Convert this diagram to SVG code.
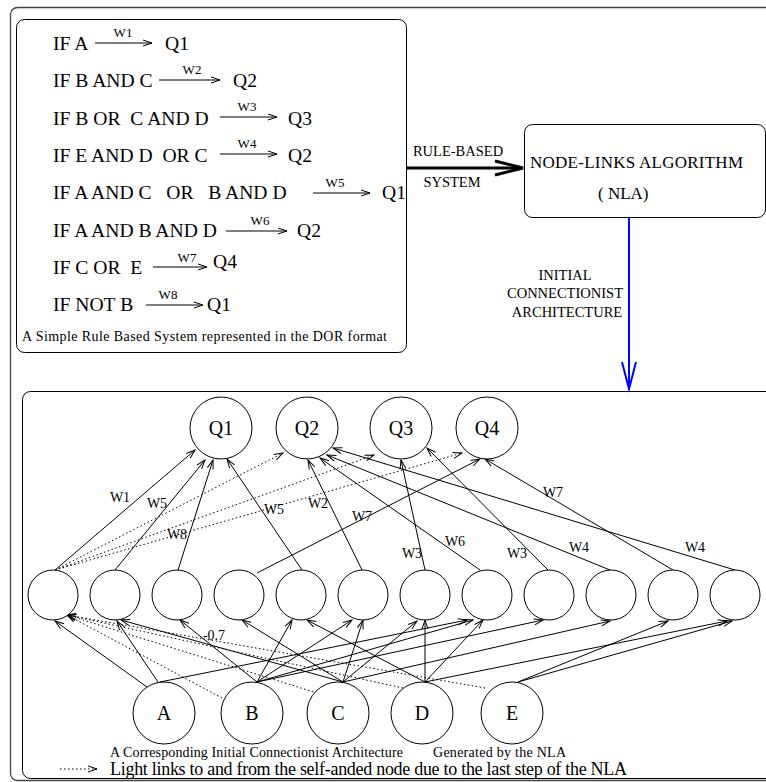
<svg xmlns="http://www.w3.org/2000/svg" width="766" height="782" viewBox="0 0 766 782">
<style>
text{font-family:"Liberation Serif","Times New Roman",serif;fill:#000}
.r{font-size:19.6px;white-space:pre}
.w{font-size:13px}
.nl{font-size:14px}
.big{font-size:17px}
.lbl{font-size:14.5px}
.nd{font-size:20px;text-anchor:middle}
.frame{fill:none;stroke:#444;stroke-width:1.3}
.box{fill:none;stroke:#000;stroke-width:1}
.c{fill:#fff;stroke:#000;stroke-width:1}
.ln{stroke:#000;stroke-width:1;fill:none;marker-end:url(#ah)}
.dt{stroke:#000;stroke-width:1;fill:none;stroke-dasharray:1.5 2.5;marker-end:url(#ah)}
.ra{stroke:#000;stroke-width:1;fill:none;marker-end:url(#ah)}
</style>
<defs>
<marker id="ah" viewBox="-10 -5 12 10" refX="0" refY="0" markerWidth="12" markerHeight="10" markerUnits="userSpaceOnUse" orient="auto"><path d="M-9,-3 L0,0 L-9,3" fill="none" stroke="#000" stroke-width="1"/></marker>
</defs>
<rect x="0" y="0" width="766" height="782" fill="#fff"/>
<rect class="frame" x="10.5" y="7.5" width="800" height="773" rx="7"/>

<g id="rules">
<rect class="box" x="16.5" y="19.5" width="390" height="333" rx="8"/>
<text class="r" x="53" y="50">IF A</text>
<line class="ra" x1="95" y1="43" x2="152" y2="43"/>
<text class="w" x="123" y="37" text-anchor="middle">W1</text>
<text class="r" x="165" y="50">Q1</text>
<text class="r" x="53" y="87">IF B AND C</text>
<line class="ra" x1="159" y1="80" x2="220" y2="80"/>
<text class="w" x="192" y="74" text-anchor="middle">W2</text>
<text class="r" x="233" y="87">Q2</text>
<text class="r" x="53" y="125">IF B OR  C AND D</text>
<line class="ra" x1="220" y1="117" x2="277" y2="117"/>
<text class="w" x="247" y="111" text-anchor="middle">W3</text>
<text class="r" x="288" y="125">Q3</text>
<text class="r" x="53" y="162">IF E AND D  OR C</text>
<line class="ra" x1="220" y1="154" x2="277" y2="154"/>
<text class="w" x="247" y="148" text-anchor="middle">W4</text>
<text class="r" x="288" y="162">Q2</text>
<text class="r" x="53" y="199">IF A AND C   OR   B AND D</text>
<line class="ra" x1="313" y1="193" x2="370" y2="193"/>
<text class="w" x="335" y="187" text-anchor="middle">W5</text>
<text class="r" x="382" y="199">Q1</text>
<text class="r" x="53" y="237">IF A AND B AND D</text>
<line class="ra" x1="226" y1="231" x2="287" y2="231"/>
<text class="w" x="260" y="225" text-anchor="middle">W6</text>
<text class="r" x="297" y="237">Q2</text>
<text class="r" x="53" y="274">IF C OR  E</text>
<line class="ra" x1="153" y1="267" x2="207" y2="267"/>
<text class="w" x="187" y="262" text-anchor="middle">W7</text>
<text class="r" x="213" y="268">Q4</text>
<text class="r" x="53" y="311">IF NOT B</text>
<line class="ra" x1="146" y1="305" x2="203" y2="305"/>
<text class="w" x="168" y="299" text-anchor="middle">W8</text>
<text class="r" x="207" y="311">Q1</text>
<text class="nl" x="22" y="341" textLength="365" lengthAdjust="spacing">A Simple Rule Based System represented in the DOR format</text>
</g>

<g id="nla">
<rect class="box" x="524.5" y="124.5" width="241" height="93" rx="8"/>
<text class="big" x="530" y="168" textLength="213" lengthAdjust="spacing">NODE-LINKS ALGORITHM</text>
<text class="big" x="598" y="199">( NLA)</text>
</g>

<g id="flow">
<line x1="406" y1="168" x2="522" y2="168" stroke="#000" stroke-width="3"/>
<polyline points="495,161 523,168 495,175" fill="none" stroke="#000" stroke-width="3"/>
<text class="lbl" x="458" y="156" text-anchor="middle">RULE-BASED</text>
<text class="lbl" x="452" y="187" text-anchor="middle">SYSTEM</text>
<line x1="629" y1="217" x2="629" y2="389" stroke="#00f" stroke-width="2"/>
<polyline points="622,362 629,389 636,362" fill="none" stroke="#00f" stroke-width="2"/>
<text class="lbl" x="565" y="280" text-anchor="middle">INITIAL</text>
<text class="lbl" x="565" y="298" text-anchor="middle">CONNECTIONIST</text>
<text class="lbl" x="567" y="317" text-anchor="middle">ARCHITECTURE</text>
</g>

<rect class="box" x="22.5" y="391.5" width="800" height="387" rx="8" stroke="#444"/>

<g id="connectors">
<line class="ln" x1="55" y1="570" x2="195" y2="450"/>
<line class="dt" x1="55" y1="570" x2="283" y2="453"/>
<line class="dt" x1="55" y1="570" x2="374" y2="455"/>
<line class="dt" x1="55" y1="570" x2="462" y2="453"/>
<line class="ln" x1="115" y1="570" x2="205" y2="460"/>
<line class="ln" x1="178" y1="570" x2="213" y2="460"/>
<line class="ln" x1="257" y1="573" x2="480" y2="459"/>
<line class="ln" x1="302" y1="570" x2="227" y2="459"/>
<line class="ln" x1="362" y1="570" x2="308" y2="460"/>
<line class="ln" x1="425" y1="570" x2="401" y2="460"/>
<line class="ln" x1="480" y1="570" x2="320" y2="458"/>
<line class="ln" x1="548" y1="570" x2="427" y2="448"/>
<line class="ln" x1="610" y1="570" x2="327" y2="455"/>
<line class="ln" x1="673" y1="570" x2="485" y2="459"/>
<line class="ln" x1="735" y1="570" x2="333" y2="448"/>

<line class="ln" x1="147" y1="687" x2="55" y2="621"/>
<line class="ln" x1="158" y1="682" x2="117" y2="621"/>
<line class="ln" x1="160" y1="682" x2="467" y2="620"/>
<line class="ln" x1="257" y1="682" x2="180" y2="620"/>
<line class="ln" x1="257" y1="682" x2="292" y2="620"/>
<line class="ln" x1="257" y1="682" x2="352" y2="620"/>
<line class="ln" x1="257" y1="682" x2="473" y2="620"/>
<line class="ln" x1="257" y1="682" x2="543" y2="620"/>
<line class="ln" x1="343" y1="682" x2="121" y2="620"/>
<line class="ln" x1="343" y1="682" x2="242" y2="620"/>
<line class="ln" x1="343" y1="682" x2="363" y2="620"/>
<line class="ln" x1="343" y1="682" x2="417" y2="621"/>
<line class="ln" x1="343" y1="682" x2="610" y2="621"/>
<line class="ln" x1="425" y1="682" x2="307" y2="620"/>
<line class="ln" x1="425" y1="682" x2="425" y2="620"/>
<line class="ln" x1="425" y1="682" x2="483" y2="620"/>
<line class="ln" x1="425" y1="682" x2="727" y2="621"/>
<line class="ln" x1="518" y1="682" x2="668" y2="621"/>
<line class="ln" x1="518" y1="682" x2="732" y2="621"/>
<line class="dt" x1="222" y1="698" x2="67" y2="615"/>
<line class="dt" x1="317" y1="693" x2="67" y2="615"/>
<line class="dt" x1="403" y1="688" x2="67" y2="615"/>
<line class="dt" x1="485" y1="688" x2="67" y2="615"/>

<text class="nl" x="120" y="502" text-anchor="middle">W1</text>
<text class="nl" x="157" y="508" text-anchor="middle">W5</text>
<text class="nl" x="177" y="539" text-anchor="middle">W8</text>
<text class="nl" x="274" y="514" text-anchor="middle">W5</text>
<text class="nl" x="318" y="508" text-anchor="middle">W2</text>
<text class="nl" x="362" y="521" text-anchor="middle">W7</text>
<text class="nl" x="412" y="558" text-anchor="middle">W3</text>
<text class="nl" x="455" y="546" text-anchor="middle">W6</text>
<text class="nl" x="517" y="558" text-anchor="middle">W3</text>
<text class="nl" x="579" y="552" text-anchor="middle">W4</text>
<text class="nl" x="553" y="497" text-anchor="middle">W7</text>
<text class="nl" x="695" y="552" text-anchor="middle">W4</text>
<text class="nl" x="214" y="640" text-anchor="middle">-0.7</text>
</g>

<g id="Q1"><circle class="c" cx="221" cy="428" r="31"/><text class="nd" x="221" y="435">Q1</text></g>
<g id="Q2"><circle class="c" cx="307" cy="428" r="31"/><text class="nd" x="307" y="435">Q2</text></g>
<g id="Q3"><circle class="c" cx="401" cy="428" r="31"/><text class="nd" x="401" y="435">Q3</text></g>
<g id="Q4"><circle class="c" cx="487" cy="428" r="31"/><text class="nd" x="487" y="435">Q4</text></g>

<g id="h1"><circle class="c" cx="53" cy="595" r="25"/></g>
<g id="h2"><circle class="c" cx="115" cy="595" r="25"/></g>
<g id="h3"><circle class="c" cx="177" cy="595" r="25"/></g>
<g id="h4"><circle class="c" cx="239" cy="595" r="25"/></g>
<g id="h5"><circle class="c" cx="301" cy="595" r="25"/></g>
<g id="h6"><circle class="c" cx="363" cy="595" r="25"/></g>
<g id="h7"><circle class="c" cx="425" cy="595" r="25"/></g>
<g id="h8"><circle class="c" cx="487" cy="595" r="25"/></g>
<g id="h9"><circle class="c" cx="549" cy="595" r="25"/></g>
<g id="h10"><circle class="c" cx="611" cy="595" r="25"/></g>
<g id="h11"><circle class="c" cx="673" cy="595" r="25"/></g>
<g id="h12"><circle class="c" cx="735" cy="595" r="25"/></g>

<g id="A"><circle class="c" cx="164" cy="713" r="31"/><text class="nd" x="164" y="720">A</text></g>
<g id="B"><circle class="c" cx="252" cy="713" r="31"/><text class="nd" x="252" y="720">B</text></g>
<g id="C"><circle class="c" cx="338" cy="713" r="31"/><text class="nd" x="338" y="720">C</text></g>
<g id="D"><circle class="c" cx="422" cy="713" r="31"/><text class="nd" x="422" y="720">D</text></g>
<g id="E"><circle class="c" cx="512" cy="713" r="31"/><text class="nd" x="512" y="720">E</text></g>

<g id="captions">
<text class="nl" x="110" y="757" textLength="293" lengthAdjust="spacing">A Corresponding Initial Connectionist Architecture</text>
<text class="nl" x="433" y="757" textLength="133" lengthAdjust="spacing">Generated by the NLA</text>
<line class="dt" x1="60" y1="769" x2="97" y2="769"/>
<text x="110" y="775" font-size="18" textLength="517" lengthAdjust="spacing">Light links to and from the self-anded node due to the last step of the NLA</text>
</g>
</svg>
